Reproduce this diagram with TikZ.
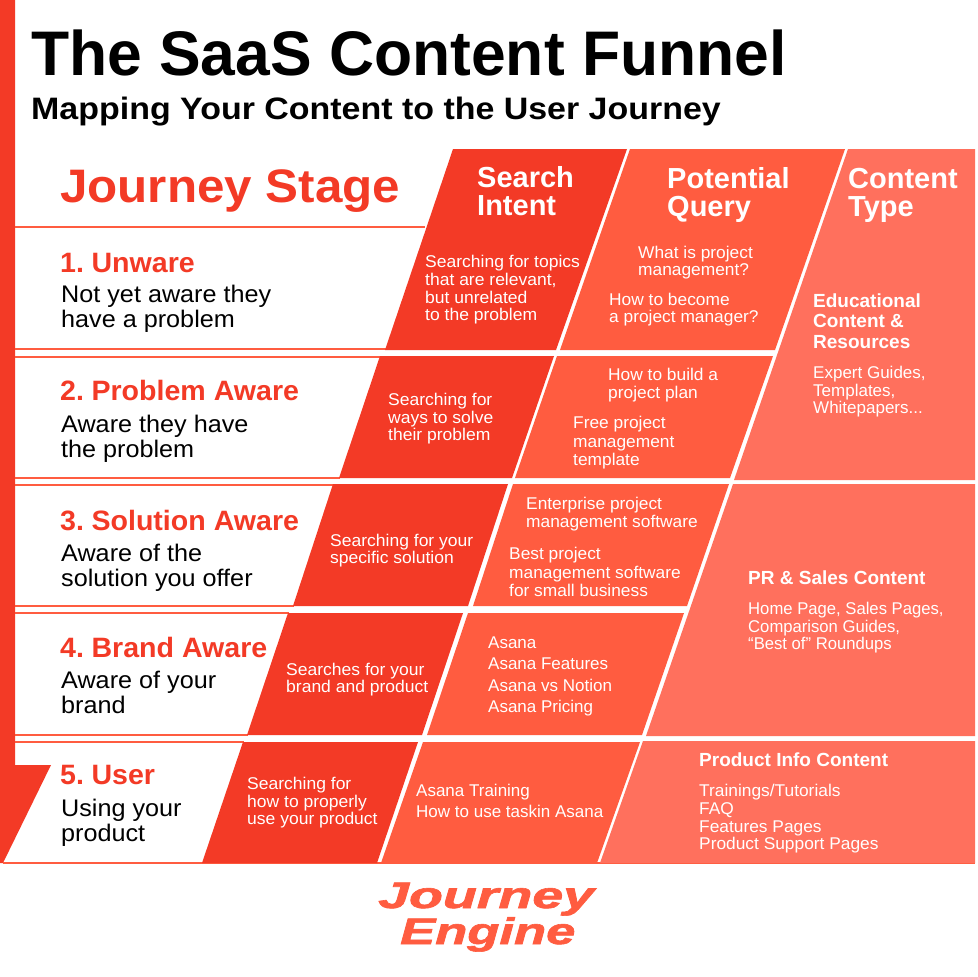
\documentclass[tikz,border=0pt]{standalone}
\usepackage{fontspec}
\setmainfont{Liberation Sans}
\newfontfamily\fTitle[FakeStretch=0.99]{Liberation Sans}
\newfontfamily\fSub[FakeStretch=1.095]{Liberation Sans}
\newfontfamily\fHead[FakeStretch=1.05]{Liberation Sans}
\newfontfamily\fStage[FakeStretch=1.02]{Liberation Sans}
\newfontfamily\fDesc[FakeStretch=1.05]{Liberation Sans}
\newfontfamily\fIntent[FakeStretch=1.03]{Liberation Sans}
\newfontfamily\fQuery[FakeStretch=1.02]{Liberation Sans}
\newfontfamily\fPlain[FakeStretch=0.98]{Liberation Sans}
\newfontfamily\fLogo[BoldItalicFeatures={FakeBold=1.6}]{Liberation Sans}
\definecolor{cdark}{HTML}{F33A26}
\definecolor{cmid}{HTML}{FF5C40}
\definecolor{clight}{HTML}{FF705D}
\newcommand\fs[2]{\fontsize{#1}{#2}\selectfont}
\newcommand\dotgap{\hspace{-3pt}}
\tikzset{
  txt/.style={anchor=base west,inner sep=0pt,align=left},
  title/.style={txt,text=black,font=\fTitle\bfseries\fs{63}{66}},
  subtitle/.style={txt,text=black,font=\fSub\bfseries\fs{31}{32}},
  stagehead/.style={txt,text=cdark,font=\fHead\bfseries\fs{47}{50}},
  stage/.style={txt,text=cdark,font=\fStage\bfseries\fs{28}{30}},
  desc/.style={txt,text=black,font=\fDesc\fs{24}{24.7}},
  colhead/.style={txt,text=white,font=\bfseries\fs{29}{27.5}},
  small/.style={txt,yshift=-0.7pt,text=white,font=\fIntent\fs{17}{17.7}},
  smallc/.style={txt,yshift=-0.7pt,text=white,font=\fs{17}{17.7}},
  smallp/.style={txt,yshift=-0.7pt,text=white,font=\fPlain\fs{17}{17.7}},
  smalla/.style={txt,yshift=-0.7pt,text=white,font=\fQuery\fs{17}{17.7}},
  smallq/.style={txt,yshift=-0.7pt,text=white,font=\fQuery\fs{17}{18.5}},
  smallw/.style={txt,yshift=-0.7pt,text=white,font=\fs{17}{21.5}},
  ctype/.style={txt,text=white,font=\bfseries\fs{19}{20.5}},
  logo/.style={txt,text=cmid,font=\fLogo\bfseries\itshape\fs{37}{37}},
  rule/.style={draw=cmid,line width=2pt},
}
\begin{document}
\begin{tikzpicture}[x=1pt,y=-1pt]
\useasboundingbox (0,0) rectangle (977,977);
\fill[white] (0,0) rectangle (977,977);
% funnel bar
\fill[cdark] (0,0) -- (15,0) -- (15,765) -- (51,765) -- (3,863) -- (0,863) -- cycle;
% rules
\foreach \y/\x in {227/425,349/386,357/381,478/340,485/334,606/294,613/289,735/248,742/244}
  \draw[rule] (15,\y) -- (\x,\y);
\draw[rule] (3,863) -- (975,863);
% search intent
\fill[cdark] (453,149) -- (627,149) -- (556,350) -- (385,350) -- cycle;
\fill[cdark] (380,356) -- (554,356) -- (512,478) -- (339,478) -- cycle;
\fill[cdark] (333,484) -- (508,484) -- (468,606) -- (293,606) -- cycle;
\fill[cdark] (288,613) -- (463,613) -- (422,735) -- (247,735) -- cycle;
\fill[cdark] (243,742) -- (418,742) -- (377,863) -- (202,863) -- cycle;
% potential query
\fill[cmid] (630,149) -- (845,149) -- (775,350) -- (560,350) -- cycle;
\fill[cmid] (557,356) -- (773,356) -- (730,478) -- (515,478) -- cycle;
\fill[cmid] (513,484) -- (729,484) -- (687,606) -- (473,606) -- cycle;
\fill[cmid] (468,613) -- (684,613) -- (642,735) -- (427,735) -- cycle;
\fill[cmid] (423,742) -- (640,742) -- (597,863) -- (381,863) -- cycle;
% content type
\fill[clight] (848,149) -- (975,149) -- (975,480) -- (734,480) -- cycle;
\fill[clight] (733,484) -- (975,484) -- (975,736) -- (646,736) -- cycle;
\fill[clight] (643,741) -- (975,741) -- (975,863) -- (600,863) -- cycle;
% titles
\node[title] (t1) at (31,75) {The SaaS Content Funnel};
\node[subtitle] (t2) at (31,119) {Mapping Your Content to the User Journey};
\node[stagehead] (js) at (60,202) {Journey Stage};
% stages
\node[stage] (s1) at (60,272) {1.\dotgap{} Unware};
\node[desc] (d1) at (61,327) {Not yet aware they\\have a problem};
\node[stage] (s2) at (60,400.5) {2.\dotgap{} Problem Aware};
\node[desc] (d2) at (61,457) {Aware they have\\the problem};
\node[stage] (s3) at (60,530) {3.\dotgap{} Solution Aware};
\node[desc] (d3) at (61,586) {Aware of the\\solution you offer};
\node[stage] (s4) at (60,657) {4.\dotgap{} Brand Aware};
\node[desc] (d4) at (61,713) {Aware of your\\brand};
\node[stage] (s5) at (60,784) {5.\dotgap{} User};
\node[desc] (d5) at (61,841) {Using your\\product};
% headers
\node[colhead] (h1) at (477,215) {Search\\Intent};
\node[colhead] (h2) at (667,216) {Potential\\Query};
\node[colhead] (h3) at (848,216) {Content\\Type};
% intent
\node[small] (i1) at (425,320) {Searching for topics\\that are relevant,\\but unrelated\\to the problem};
\node[small] (i2) at (388,440) {Searching for\\ways to solve\\their problem};
\node[small] (i3) at (330,563) {Searching for your\\specific solution};
\node[small] (i4) at (286,692) {Searches for your\\brand and product};
\node[small] (i5) at (247,824) {Searching for\\how to properly\\use your product};
% queries
\node[smalla] (q1a) at (638,275) {What is project\\management?};
\node[smalla] (q1b) at (609,322) {How to become\\a project manager?};
\node[smallq] (q2a) at (608,398) {How to build a\\project plan};
\node[smallq] (q2b) at (573,465) {Free project\\management\\template};
\node[smallq] (q3a) at (526,527) {Enterprise project\\management software};
\node[smallq] (q3b) at (509,596) {Best project\\management software\\for small business};
\node[smallw] (q4) at (488,712) {Asana\\Asana Features\\Asana vs Notion\\Asana Pricing};
\node[smallw] (q5) at (416,817) {Asana Training\\How to use taskin Asana};
% content types
\node[ctype] (c1) at (813,348) {Educational\\Content \&\\Resources};
\node[smallc] (c1b) at (813,413) {Expert Guides,\\Templates,\\Whitepapers...};
\node[ctype] (c2) at (748,584) {PR \& Sales Content};
\node[smallp] (c2b) at (748,649) {Home Page, Sales Pages,\\Comparison Guides,\\“Best of” Roundups};
\node[ctype] (c3) at (699,766) {Product Info Content};
\node[smalla] (c3b) at (699,849) {Trainings/Tutorials\\FAQ\\Features Pages\\Product Support Pages};
% logo
\node[logo] (l1) at (378,908) {\scalebox{1.5}[1]{Journey}};
\node[logo] (l2) at (400,944) {\scalebox{1.42}[1]{Engine}};
\end{tikzpicture}
\end{document}
